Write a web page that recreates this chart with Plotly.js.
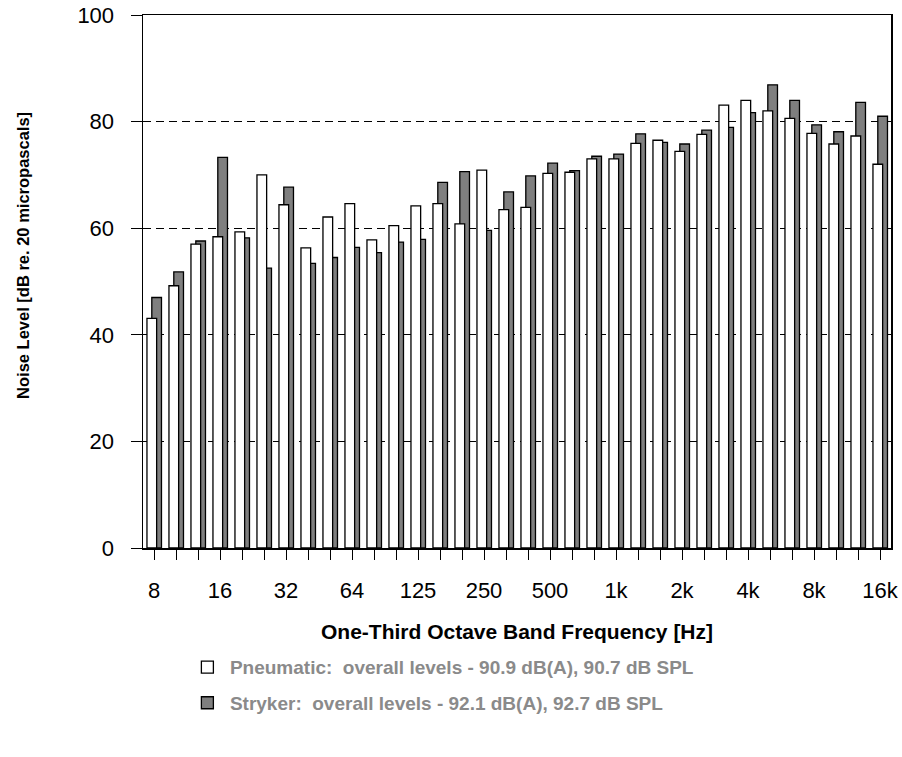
<!DOCTYPE html>
<html>
<head>
<meta charset="utf-8">
<script src="https://cdn.plot.ly/plotly-3.0.1.min.js"></script>
<style>body{margin:0;padding:0;background:#fff;}#chart{width:902px;height:757px;}</style>
</head>
<body>
<div id="chart"></div>
<script>
var bands = ["8","10","12.5","16","20","25","31.5","40","50","63","80","100","125","160","200","250","315","400","500","630","800","1k","1.25k","1.6k","2k","2.5k","3.15k","4k","5k","6.3k","8k","10k","12.5k","16k"];
var tickLabels = ["8","","","16","","","32","","","64","","","125","","","250","","","500","","","1k","","","2k","","","4k","","","8k","","","16k"];
var pneumatic = [43.1,49.2,57.0,58.4,59.3,70.0,64.4,56.3,62.1,64.6,57.8,60.5,64.2,64.6,60.8,70.9,63.5,63.9,70.3,70.5,73.0,73.0,75.9,76.5,74.4,77.6,83.1,84.0,82.0,80.6,77.8,75.8,77.3,72.0];
var stryker = [47.0,51.8,57.6,73.3,58.2,52.5,67.7,53.4,54.5,56.4,55.4,57.4,57.9,68.6,70.6,59.6,66.8,69.8,72.2,70.8,73.5,73.9,77.7,76.1,75.8,78.4,78.9,81.7,86.9,84.0,79.4,78.1,83.6,81.0];
var pneumaticName = "Pneumatic:\u00a0 overall levels - 90.9 dB(A), 90.7 dB SPL";
var strykerName = "Stryker:\u00a0 overall levels - 92.1 dB(A), 92.7 dB SPL";
var xTitle = "One-Third Octave Band Frequency [Hz]";
var yTitle = "Noise Level [dB re. 20 micropascals]";

var traces = [
  {type:"bar", x:bands, y:stryker, name:strykerName, legendrank:2, legendgroup:"s",
   offset:-0.10, width:0.44,
   marker:{color:"#7f7f7f", line:{color:"#000", width:1.3}}, hoverinfo:"x+y"},
  {type:"bar", x:bands, y:pneumatic, name:pneumaticName, legendrank:1, legendgroup:"p",
   offset:-0.32, width:0.44,
   marker:{color:"#ffffff", line:{color:"#000", width:1.3}}, hoverinfo:"x+y"}
];

var font = "Liberation Sans, Arial, sans-serif";
var layout = {
  width:902, height:757,
  margin:{l:143, r:11, t:15, b:209, autoexpand:false},
  paper_bgcolor:"#fff", plot_bgcolor:"#fff",
  barmode:"overlay",
  font:{family:font, color:"#000"},
  xaxis:{type:"category", tickmode:"array", tickvals:bands, ticktext:tickLabels,
    ticks:"outside", ticklen:10, tickwidth:1, tickcolor:"#000",
    showline:true, linecolor:"#000", linewidth:1.5, mirror:true,
    showgrid:false, zeroline:false, range:[-0.5,33.5],
    tickfont:{size:22, family:font}, ticklabelstandoff:12,
    title:{text:xTitle, font:{size:21, family:font, weight:"bold"}, standoff:22}},
  yaxis:{range:[0,100], tickvals:[0,20,40,60,80,100],
    ticks:"outside", ticklen:11, tickwidth:1, tickcolor:"#000",
    showline:true, linecolor:"#000", linewidth:1.5, mirror:true,
    showgrid:true, gridcolor:"#000", gridwidth:1, griddash:"8px,5px",
    zeroline:false, tickfont:{size:22, family:font}, ticklabelstandoff:12},
  annotations:[{text:yTitle, xref:"paper", yref:"paper", x:-0.1604, y:0.548,
    xanchor:"center", yanchor:"middle", textangle:-90, showarrow:false,
    font:{size:16.5, family:font, weight:"bold", color:"#000"}}],
  showlegend:true,
  legend:{x:0.056, xanchor:"left", y:-0.188, yanchor:"top", orientation:"v",
    traceorder:"grouped", tracegroupgap:8, itemwidth:35, bgcolor:"rgba(0,0,0,0)",
    font:{size:19, family:font, color:"#8a8a8a", weight:"bold"}}
};

Plotly.newPlot("chart", traces, layout, {displayModeBar:false, staticPlot:true});
</script>
</body>
</html>
